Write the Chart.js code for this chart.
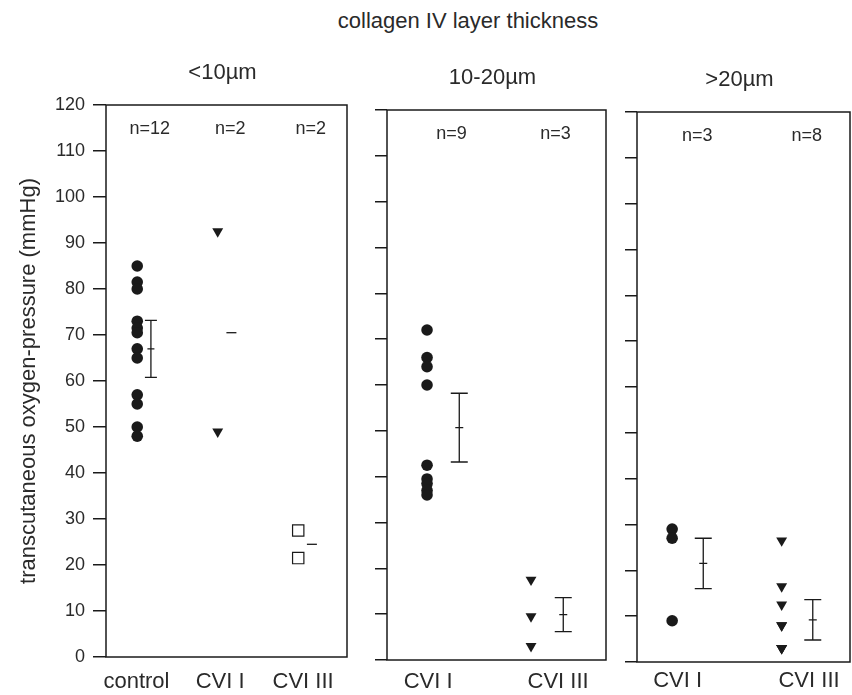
<!DOCTYPE html>
<html>
<head>
<meta charset="utf-8">
<script src="https://cdn.jsdelivr.net/npm/chart.js@4.4.0/dist/chart.umd.min.js"></script>
<style>
  body { margin: 0; background: #fff; width: 852px; height: 695px; position: relative; overflow: hidden;
         font-family: "Liberation Sans", Arial, sans-serif; }
  #title { position: absolute; left: 268px; width: 400px; top: 8px; text-align: center;
           font-size: 22px; line-height: 26px; color: #2a2a2a; }
  canvas { position: absolute; top: 0; }
  #p1 { left: 0; }
  #p2 { left: 372px; }
  #p3 { left: 620px; }
</style>
</head>
<body>
<div id="title">collagen IV layer thickness</div>
<canvas id="p1" width="360" height="695"></canvas>
<canvas id="p2" width="245" height="695"></canvas>
<canvas id="p3" width="232" height="695"></canvas>
<script>
// y axis
var yMin = 0;
var yMax = 120;
var yStep = 10;
var yTitle = 'transcutaneous oxygen-pressure (mmHg)';

// panel 1: <10µm
var p1Title = '<10µm';
var p1Categories = ['control', 'CVI I', 'CVI III'];
var p1N = ['n=12', 'n=2', 'n=2'];
var p1Control = [85, 81.5, 80, 73, 71.5, 70.5, 67, 65, 57, 55, 50, 48];
var p1CviI = [92.5, 49];
var p1CviIII = [27.5, 21.5];
var p1Means = [67, 70.5, 24.5];
var p1Sems = [6.2, 0, 0];

// panel 2: 10-20µm
var p2Title = '10-20µm';
var p2Categories = ['CVI I', 'CVI III'];
var p2N = ['n=9', 'n=3'];
var p2CviI = [72, 66, 64, 60, 42.5, 39.5, 38.5, 37, 36];
var p2CviIII = [17.5, 9.5, 3];
var p2Means = [50.7, 9.9];
var p2Sems = [7.5, 3.7];

// panel 3: >20µm
var p3Title = '>20µm';
var p3Categories = ['CVI I', 'CVI III'];
var p3N = ['n=3', 'n=8'];
var p3CviI = [29, 27, 9];
var p3CviIII = [26.5, 16.5, 12.5, 8, 8, 3, 3, 3];
var p3Means = [21.5, 9.2];
var p3Sems = [5.5, 4.4];

var FONT = '"Liberation Sans", Arial, sans-serif';
var INK = '#1a1a1a';
var TEXT = '#2a2a2a';
Chart.defaults.font.family = FONT;

var circle = { pointStyle: 'circle', pointRadius: 5.8, pointRotation: 0,
               pointBackgroundColor: INK, pointBorderColor: INK, pointBorderWidth: 0 };
var triangle = { pointStyle: 'triangle', pointRadius: 6.3, pointRotation: 180,
                 pointBackgroundColor: INK, pointBorderColor: INK, pointBorderWidth: 0 };
var square = { pointStyle: 'rect', pointRadius: 8, pointRotation: 0,
               pointBackgroundColor: '#fff', pointBorderColor: INK, pointBorderWidth: 1.2 };

function makeDecor(d) {
  return {
    id: 'decor',
    afterDatasetsDraw: function(chart) {
      var ctx = chart.ctx, a = chart.chartArea;
      var xs = chart.scales.x, ys = chart.scales.y;
      ctx.save();
      ctx.strokeStyle = INK;
      ctx.lineWidth = 1.5;
      ctx.strokeRect(a.left, a.top, a.right - a.left, a.bottom - a.top);

      ctx.lineWidth = 1.3;
      for (var i = 0; i < d.means.length; i++) {
        var x = xs.getPixelForValue(i + d.errOffset);
        var yM = ys.getPixelForValue(d.means[i]);
        ctx.beginPath();
        if (d.sems[i] > 0) {
          var yT = ys.getPixelForValue(d.means[i] + d.sems[i]);
          var yB = ys.getPixelForValue(d.means[i] - d.sems[i]);
          ctx.moveTo(x, yT); ctx.lineTo(x, yB);
          ctx.moveTo(x - d.cap / 2, yT); ctx.lineTo(x + d.cap / 2, yT);
          ctx.moveTo(x - d.cap / 2, yB); ctx.lineTo(x + d.cap / 2, yB);
          ctx.moveTo(x - d.tick / 2, yM); ctx.lineTo(x + d.tick / 2, yM);
        } else {
          ctx.moveTo(x - 5, yM); ctx.lineTo(x + 5, yM);
        }
        ctx.stroke();
      }

      ctx.fillStyle = TEXT;
      ctx.textAlign = 'center';
      ctx.textBaseline = 'middle';
      ctx.font = '18px ' + FONT;
      d.nLabels.forEach(function(t, i) {
        ctx.fillText(t, xs.getPixelForValue(i + d.nOffset), a.top + 24);
      });
      ctx.font = '22px ' + FONT;
      ctx.fillText(d.title, (a.left + a.right) / 2 - 4, a.top - 32);
      ctx.restore();
    }
  };
}

function makePanel(id, lay, categories, series, styles, decor) {
  var datasets = series.map(function(values, i) {
    var ds = { data: values.map(function(v) { return { x: i, y: v }; }) };
    for (var k in styles[i]) ds[k] = styles[i][k];
    return ds;
  });

  return new Chart(document.getElementById(id), {
    type: 'scatter',
    data: { datasets: datasets },
    options: {
      responsive: false,
      animation: false,
      events: [],
      devicePixelRatio: 1,
      layout: { autoPadding: false, padding: { left: 0, right: lay.padRight, top: lay.top, bottom: 0 } },
      plugins: { legend: { display: false }, tooltip: { enabled: false } },
      scales: {
        x: {
          type: 'linear',
          min: lay.xMin,
          max: lay.xMax,
          afterBuildTicks: function(s) {
            s.ticks = categories.map(function(c, i) { return { value: i + lay.labelOffsets[i] }; });
          },
          ticks: {
            autoSkip: false, maxRotation: 0, color: TEXT, padding: lay.labelPad,
            font: { size: 22 },
            callback: function(v, i) { return categories[i]; }
          },
          grid: { display: false, drawTicks: false },
          border: { display: false },
          afterFit: function(s) { s.height = lay.xHeight; s.paddingLeft = 0; s.paddingRight = 0; }
        },
        y: {
          min: yMin,
          max: yMax,
          ticks: { stepSize: yStep, display: lay.yLabels, color: TEXT, padding: 8, font: { size: 18 } },
          grid: { drawOnChartArea: false, drawTicks: true, tickLength: lay.tickLen, color: INK, lineWidth: 1.5 },
          border: { display: false },
          title: { display: lay.yLabels, text: yTitle, color: TEXT, font: { size: 22 },
                   padding: { top: 16, bottom: 0 } },
          afterFit: function(s) { s.width = lay.yWidth; }
        }
      }
    },
    plugins: [makeDecor(decor)]
  });
}

makePanel('p1',
  { top: 105, padRight: 13, yWidth: 106, xHeight: 38, xMin: -0.388, xMax: 2.606,
    tickLen: 13, yLabels: true, labelPad: 12, labelOffsets: [-0.01, 0.03, 0.06] },
  p1Categories, [p1Control, p1CviI, p1CviIII], [circle, triangle, square],
  { title: p1Title, nLabels: p1N, means: p1Means, sems: p1Sems,
    errOffset: 0.17, nOffset: 0.155, cap: 12, tick: 7 });

makePanel('p2',
  { top: 110, padRight: 11, yWidth: 15, xHeight: 35, xMin: -0.385, xMax: 1.721,
    tickLen: 12, yLabels: false, labelPad: 9, labelOffsets: [0.01, 0.26] },
  p2Categories, [p2CviI, p2CviIII], [circle, triangle],
  { title: p2Title, nLabels: p2N, means: p2Means, sems: p2Sems,
    errOffset: 0.31, nOffset: 0.235, cap: 17, tick: 8 });

makePanel('p3',
  { top: 112, padRight: 2, yWidth: 17, xHeight: 33, xMin: -0.321, xMax: 1.624,
    tickLen: 12, yLabels: false, labelPad: 6, labelOffsets: [0.05, 0.25] },
  p3Categories, [p3CviI, p3CviIII], [circle, triangle],
  { title: p3Title, nLabels: p3N, means: p3Means, sems: p3Sems,
    errOffset: 0.284, nOffset: 0.23, cap: 17, tick: 8 });
</script>
</body>
</html>
